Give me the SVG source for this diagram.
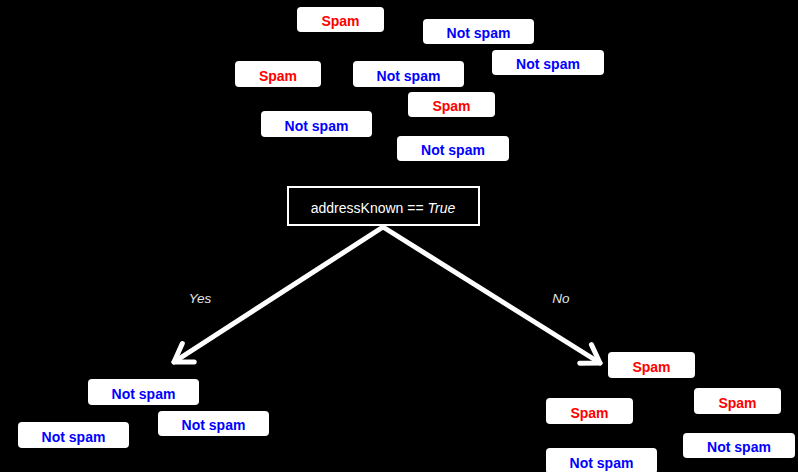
<svg xmlns="http://www.w3.org/2000/svg" width="798" height="472" viewBox="0 0 798 472">
  <style>
    .card { fill: #ffffff; }
    .lbl { font-family: "Liberation Sans", Arial, sans-serif; font-size: 14px; font-weight: bold; text-anchor: middle; }
    .spam { fill: #ff0000; }
    .ham { fill: #0000ff; }
    .test { font-family: "Liberation Sans", Arial, sans-serif; font-size: 14px; fill: #ffffff; text-anchor: middle; }
    .branch { font-family: "Liberation Sans", Arial, sans-serif; font-size: 13.5px; font-style: italic; fill: #e6e6e6; text-anchor: middle; }
    .edge { stroke: #ffffff; stroke-width: 5; stroke-linecap: round; fill: none; }
  </style>
  <defs>
    <marker id="chev" markerUnits="userSpaceOnUse" markerWidth="40" markerHeight="40" refX="0" refY="0" viewBox="-20 -20 40 40" orient="auto" overflow="visible">
      <path d="M -17 -11 L 0 0 L -17 11" stroke="#ffffff" stroke-width="5" stroke-linecap="round" stroke-linejoin="round" fill="none"/>
    </marker>
  </defs>
  <rect width="798" height="472" fill="#000000"/>

  <!-- unsplit training set -->
  <g id="top-spam-1"><rect class="card" x="297" y="7" width="87" height="25" rx="4"/><text class="lbl spam" x="340.5" y="26">Spam</text></g>
  <g id="top-ham-1"><rect class="card" x="423" y="19" width="111" height="25" rx="4"/><text class="lbl ham" x="478.5" y="38">Not spam</text></g>
  <g id="top-ham-2"><rect class="card" x="492" y="50" width="112" height="25" rx="4"/><text class="lbl ham" x="548" y="69">Not spam</text></g>
  <g id="top-spam-2"><rect class="card" x="235" y="61" width="86" height="26" rx="4"/><text class="lbl spam" x="278" y="80.5">Spam</text></g>
  <g id="top-ham-3"><rect class="card" x="353" y="61" width="111" height="26" rx="4"/><text class="lbl ham" x="408.5" y="80.5">Not spam</text></g>
  <g id="top-spam-3"><rect class="card" x="408" y="92" width="87" height="25" rx="4"/><text class="lbl spam" x="451.5" y="111">Spam</text></g>
  <g id="top-ham-4"><rect class="card" x="261" y="111" width="111" height="26" rx="4"/><text class="lbl ham" x="316.5" y="130.5">Not spam</text></g>
  <g id="top-ham-5"><rect class="card" x="397" y="136" width="112" height="25" rx="4"/><text class="lbl ham" x="453" y="155">Not spam</text></g>

  <!-- split test -->
  <g id="test-node">
    <rect x="288" y="187" width="191" height="38" fill="none" stroke="#ffffff" stroke-width="2"/>
    <text class="test" x="383" y="213">addressKnown == <tspan font-style="italic">True</tspan></text>
  </g>

  <!-- branches -->
  <g id="connectors">
    <line class="edge" x1="383" y1="227" x2="174" y2="362" marker-end="url(#chev)"/>
    <line class="edge" x1="383" y1="227" x2="600" y2="363" marker-end="url(#chev)"/>
    <text class="branch" x="200" y="303">Yes</text>
    <text class="branch" x="561" y="303">No</text>
  </g>

  <!-- known sender subset -->
  <g id="yes-ham-1"><rect class="card" x="88" y="379" width="111" height="26" rx="4"/><text class="lbl ham" x="143.5" y="398.5">Not spam</text></g>
  <g id="yes-ham-2"><rect class="card" x="158" y="411" width="111" height="25" rx="4"/><text class="lbl ham" x="213.5" y="430">Not spam</text></g>
  <g id="yes-ham-3"><rect class="card" x="18" y="422" width="111" height="26" rx="4"/><text class="lbl ham" x="73.5" y="441.5">Not spam</text></g>

  <!-- unknown sender subset -->
  <g id="no-spam-1"><rect class="card" x="608" y="352" width="87" height="26" rx="4"/><text class="lbl spam" x="651.5" y="371.5">Spam</text></g>
  <g id="no-spam-2"><rect class="card" x="694" y="388" width="87" height="26" rx="4"/><text class="lbl spam" x="737.5" y="407.5">Spam</text></g>
  <g id="no-spam-3"><rect class="card" x="546" y="398" width="87" height="26" rx="4"/><text class="lbl spam" x="589.5" y="417.5">Spam</text></g>
  <g id="no-ham-1"><rect class="card" x="683" y="433" width="112" height="25" rx="4"/><text class="lbl ham" x="739" y="452">Not spam</text></g>
  <g id="no-ham-2"><rect class="card" x="546" y="448" width="111" height="26" rx="4"/><text class="lbl ham" x="601.5" y="467.5">Not spam</text></g>
</svg>
